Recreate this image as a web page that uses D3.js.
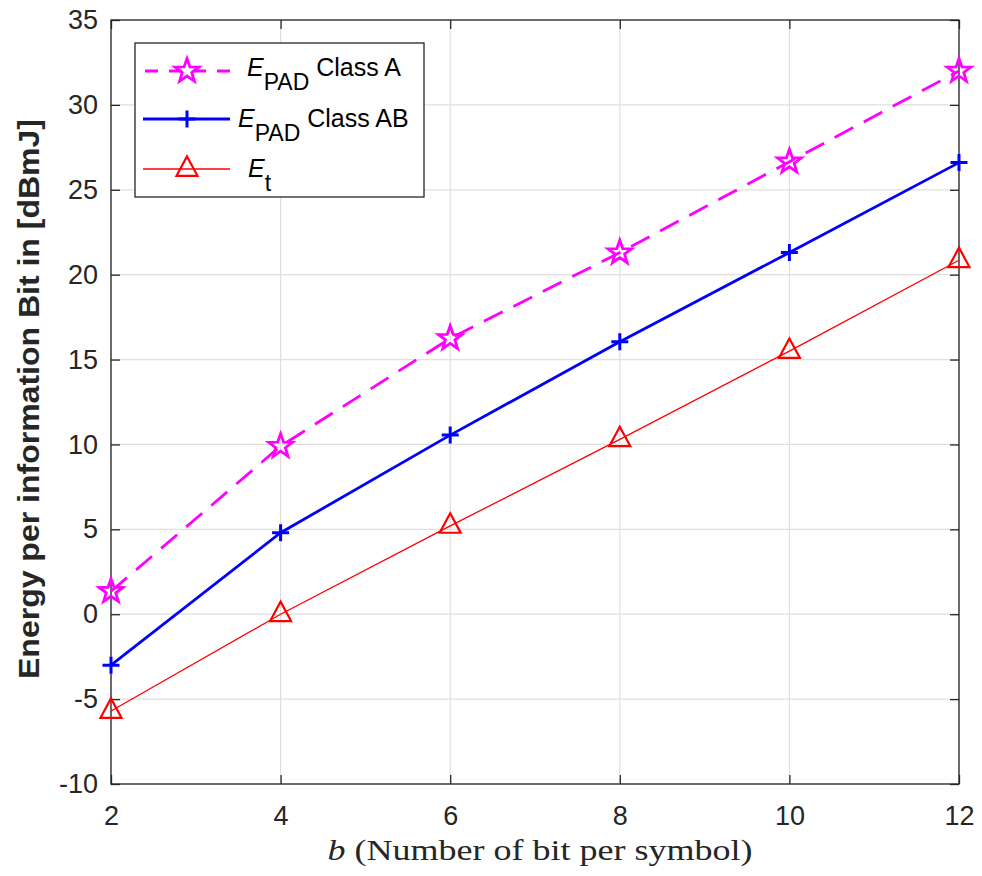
<!DOCTYPE html>
<html>
<head>
<meta charset="utf-8">
<script src="https://cdn.jsdelivr.net/npm/d3@7"></script>
<style>
  body { margin: 0; background: #fff; }
  svg { font-family: "Liberation Sans", Arial, sans-serif; }
</style>
</head>
<body>
<script>
// energy per information bit vs bits per symbol
var bits = [2, 4, 6, 8, 10, 12];
var classA = [1.35, 9.9, 16.25, 21.3, 26.65, 32.0];
var classAB = [-3.0, 4.8, 10.55, 16.05, 21.3, 26.6];
var eT = [-5.7, 0.0, 5.2, 10.3, 15.5, 20.85];
var xTicks = [2, 4, 6, 8, 10, 12];
var yTicks = [-10, -5, 0, 5, 10, 15, 20, 25, 30, 35];

var w = 982, h = 876;
var padL = 111, padR = 959, padT = 20, padB = 784;

var svg = d3.select("body").append("svg")
  .attr("width", w)
  .attr("height", h);

var xScale = d3.scaleLinear().domain([2, 12]).range([padL, padR]);
var yScale = d3.scaleLinear().domain([-10, 35]).range([padB, padT]);

// grid
svg.append("g").selectAll("line").data(xTicks).enter().append("line")
  .attr("x1", d => xScale(d)).attr("x2", d => xScale(d))
  .attr("y1", padT).attr("y2", padB)
  .attr("stroke", "#dfdfdf").attr("stroke-width", 1.2);
svg.append("g").selectAll("line").data(yTicks).enter().append("line")
  .attr("x1", padL).attr("x2", padR)
  .attr("y1", d => yScale(d)).attr("y2", d => yScale(d))
  .attr("stroke", "#dfdfdf").attr("stroke-width", 1.2);

// axes, ticks inward on all four sides
var axisColor = "#262626";
var plain = d => String(d);   // keep ascii hyphen for negatives
function styleAxis(g) {
  g.attr("font-family", "'Liberation Sans', Arial, sans-serif").attr("font-size", 27);
  g.select(".domain").remove();
  g.selectAll(".tick line").attr("stroke", axisColor).attr("stroke-width", 1.3);
  g.selectAll(".tick text").attr("fill", axisColor);
}
svg.append("g")
  .attr("transform", "translate(0," + padB + ")")
  .call(d3.axisBottom(xScale).tickValues(xTicks).tickFormat(plain).tickSizeInner(-9).tickSizeOuter(0).tickPadding(22))
  .call(styleAxis);
svg.append("g")
  .attr("transform", "translate(0," + padT + ")")
  .call(d3.axisTop(xScale).tickValues(xTicks).tickSizeInner(-9).tickSizeOuter(0).tickFormat(""))
  .call(styleAxis);
svg.append("g")
  .attr("transform", "translate(" + padL + ",0)")
  .call(d3.axisLeft(yScale).tickValues(yTicks).tickFormat(plain).tickSizeInner(-9).tickSizeOuter(0).tickPadding(13))
  .call(styleAxis);
svg.append("g")
  .attr("transform", "translate(" + padR + ",0)")
  .call(d3.axisRight(yScale).tickValues(yTicks).tickSizeInner(-9).tickSizeOuter(0).tickFormat(""))
  .call(styleAxis);

svg.append("rect")
  .attr("x", padL).attr("y", padT)
  .attr("width", padR - padL).attr("height", padB - padT)
  .attr("fill", "none").attr("stroke", axisColor).attr("stroke-width", 1.3);

// marker shapes
function starPath(r) {
  var pts = [];
  for (var i = 0; i < 10; i++) {
    var rr = i % 2 === 0 ? r : r * 0.4;
    var a = -Math.PI / 2 + i * Math.PI / 5;
    pts.push([rr * Math.cos(a), rr * Math.sin(a)]);
  }
  return "M" + pts.map(p => p[0].toFixed(2) + "," + p[1].toFixed(2)).join("L") + "Z";
}
function plusPath(r) {
  return "M" + (-r) + ",0L" + r + ",0M0," + (-r) + "L0," + r;
}
function triPath(hw) {
  return "M0," + (-hw * 1.2) + "L" + hw + "," + (hw * 0.65) + "L" + (-hw) + "," + (hw * 0.65) + "Z";
}

var series = [
  { vals: classA, color: "#ff00ff", width: 2.8, dash: "21,12", marker: starPath(12.5), mw: 2.8 },
  { vals: classAB, color: "#0000ff", width: 2.8, dash: null, marker: plusPath(8.5), mw: 3 },
  { vals: eT, color: "#ff0000", width: 1.3, dash: null, marker: triPath(10.5), mw: 2.2 }
];

var line = d3.line()
  .x((d, i) => xScale(bits[i]))
  .y(d => yScale(d));

series.forEach(function(s) {
  svg.append("path")
    .datum(s.vals)
    .attr("d", line)
    .attr("fill", "none")
    .attr("stroke", s.color)
    .attr("stroke-width", s.width)
    .attr("stroke-dasharray", s.dash);
  svg.append("g").selectAll("path").data(s.vals).enter().append("path")
    .attr("transform", (d, i) => "translate(" + xScale(bits[i]) + "," + yScale(d) + ")")
    .attr("d", s.marker)
    .attr("fill", "none")
    .attr("stroke", s.color)
    .attr("stroke-width", s.mw);
});

// legend
var legend = svg.append("g");
legend.append("rect")
  .attr("x", 135).attr("y", 43).attr("width", 289).attr("height", 154)
  .attr("fill", "#fff").attr("stroke", axisColor).attr("stroke-width", 1.3);

var rows = [
  { y: 71, base: 76, sub: "PAD", tail: " Class A", tx: 247 },
  { y: 119, base: 127, sub: "PAD", tail: " Class AB", tx: 238 },
  { y: 169, base: 177, sub: "t", tail: "", tx: 248 }
];
rows.forEach(function(r, i) {
  var s = series[i];
  legend.append("line")
    .attr("x1", 143).attr("x2", 230).attr("y1", r.y).attr("y2", r.y)
    .attr("stroke", s.color).attr("stroke-width", s.width)
    .attr("stroke-dasharray", s.dash ? "13,11" : null)
    .attr("stroke-dashoffset", s.dash ? -2 : null);
  legend.append("path")
    .attr("transform", "translate(187," + r.y + ")")
    .attr("d", s.marker)
    .attr("fill", "none").attr("stroke", s.color).attr("stroke-width", s.mw);
  var t = legend.append("text")
    .attr("x", r.tx).attr("y", r.base)
    .attr("font-size", "25px").attr("fill", "#000");
  t.append("tspan").attr("font-style", "italic").text("E");
  t.append("tspan").attr("dy", 14).attr("font-size", "23px").text(r.sub);
  if (r.tail) t.append("tspan").attr("dy", -14).text(r.tail);
});

// axis labels
svg.append("text")
  .attr("transform", "translate(39," + ((padT + padB) / 2 - 3) + ") rotate(-90)")
  .attr("text-anchor", "middle")
  .attr("font-size", "30px").attr("font-weight", "bold").attr("fill", "#262626")
  .attr("textLength", 560).attr("lengthAdjust", "spacingAndGlyphs")
  .text("Energy per information Bit in [dBmJ]");

var xl = svg.append("text")
  .attr("x", (padL + padR) / 2 + 5).attr("y", 860)
  .attr("text-anchor", "middle")
  .attr("font-family", "'Liberation Serif', 'DejaVu Serif', serif")
  .attr("font-size", "30px").attr("fill", "#262626")
  .attr("textLength", 425).attr("lengthAdjust", "spacingAndGlyphs");
xl.append("tspan").attr("font-style", "italic").text("b");
xl.append("tspan").text(" (Number of bit per symbol)");
</script>
</body>
</html>
